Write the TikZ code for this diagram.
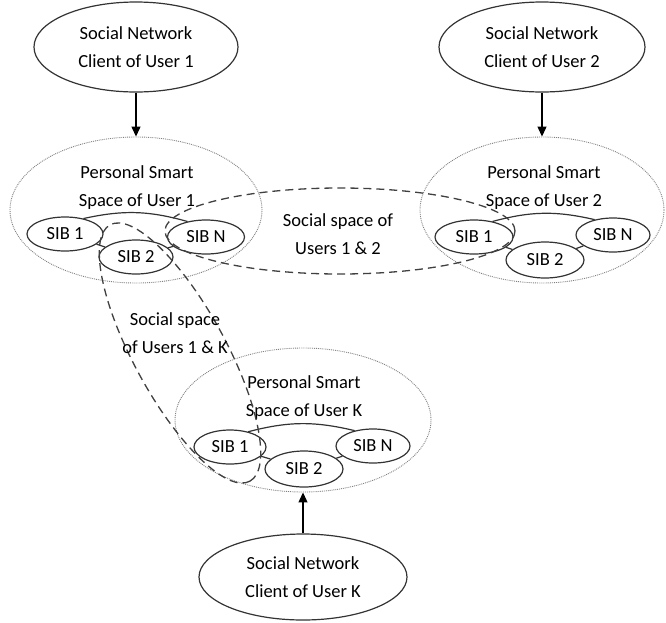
\documentclass[tikz,border=0pt]{standalone}
\usepackage{fontspec}
\setmainfont{Carlito}
\usetikzlibrary{shapes.geometric,arrows.meta}
\begin{document}
\begin{tikzpicture}[x=1pt,y=-1pt,
  every node/.style={font=\fontsize{18.5}{28}\selectfont, text=black},
  client/.style={ellipse, draw=black!80, line width=1.2pt, inner sep=0pt, align=center},
  pss/.style={ellipse, draw=black!50, line width=0.9pt, densely dotted, inner sep=0pt},
  sib/.style={ellipse, draw=black!80, line width=1.2pt, inner sep=0pt},
  social/.style={ellipse, draw=black!75, line width=1.3pt, dash pattern=on 8pt off 5pt, inner sep=0pt},
  lbl/.style={align=center, inner sep=0pt},
  link/.style={draw=black!80, line width=1.2pt},
  feed/.style={draw=black, line width=1.2pt, -{Triangle[length=10pt,width=9pt]}}
]
\useasboundingbox (0,0) rectangle (666,622);

% social network clients
\node[client, minimum width=204pt, minimum height=90pt] (c1) at (136,47) {Social Network\\Client of User 1};
\node[client, minimum width=206pt, minimum height=90pt] (c2) at (542,47) {Social Network\\Client of User 2};
\node[client, minimum width=208pt, minimum height=86pt] (ck) at (303,577) {Social Network\\Client of User K};

% personal smart spaces
\node[pss, minimum width=252pt, minimum height=146pt] (p1) at (136,210) {};
\node[pss, minimum width=244pt, minimum height=146pt] (p2) at (542,210) {};
\node[pss, minimum width=256pt, minimum height=144pt] (pk) at (303,420) {};
\node[lbl] (p1t) at (137,188) {Personal Smart\\Space of User 1};
\node[lbl] (p2t) at (544,188) {Personal Smart\\Space of User 2};
\node[lbl] (pkt) at (304,398) {Personal Smart\\Space of User K};

% SIBs of user 1
\node[sib, minimum width=76pt, minimum height=34pt] (a1) at (65,234) {SIB 1};
\node[sib, minimum width=74pt, minimum height=34pt] (a2) at (136,257) {SIB 2};
\node[sib, minimum width=77pt, minimum height=34pt] (an) at (206,237) {SIB N};
% SIBs of user 2
\node[sib, minimum width=78pt, minimum height=34pt] (b1) at (474,237) {SIB 1};
\node[sib, minimum width=78pt, minimum height=36pt] (b2) at (545,260) {SIB 2};
\node[sib, minimum width=74pt, minimum height=34pt] (bn) at (613,235) {SIB N};
% SIBs of user K
\node[sib, minimum width=72pt, minimum height=34pt] (k1) at (230,447) {SIB 1};
\node[sib, minimum width=78pt, minimum height=36pt] (k2) at (304,469) {SIB 2};
\node[sib, minimum width=74pt, minimum height=34pt] (kn) at (373,446) {SIB N};

% links between SIBs
\foreach \x in {a,b,k}{
  \draw[link] (\x1.40) to[bend left=14] (\x n.140);
  \draw[link] (\x1) -- (\x2);
  \draw[link] (\x2) -- (\x n);
}

% social spaces
\node[social, minimum width=350pt, minimum height=86pt] (s12) at (340,231) {};
\node[social, rotate=-61.4, minimum width=292pt, minimum height=92pt] (s1k) at (180,353) {};
\node[lbl] (s12t) at (338,234) {Social space of\\Users 1 \& 2};
\node[lbl] (s1kt) at (175,333) {Social space\\of Users 1 \& K};

% client feeds
\draw[feed] (c1) -- (p1);
\draw[feed] (c2) -- (p2);
\draw[feed] (ck) -- (pk);
\end{tikzpicture}
\end{document}
